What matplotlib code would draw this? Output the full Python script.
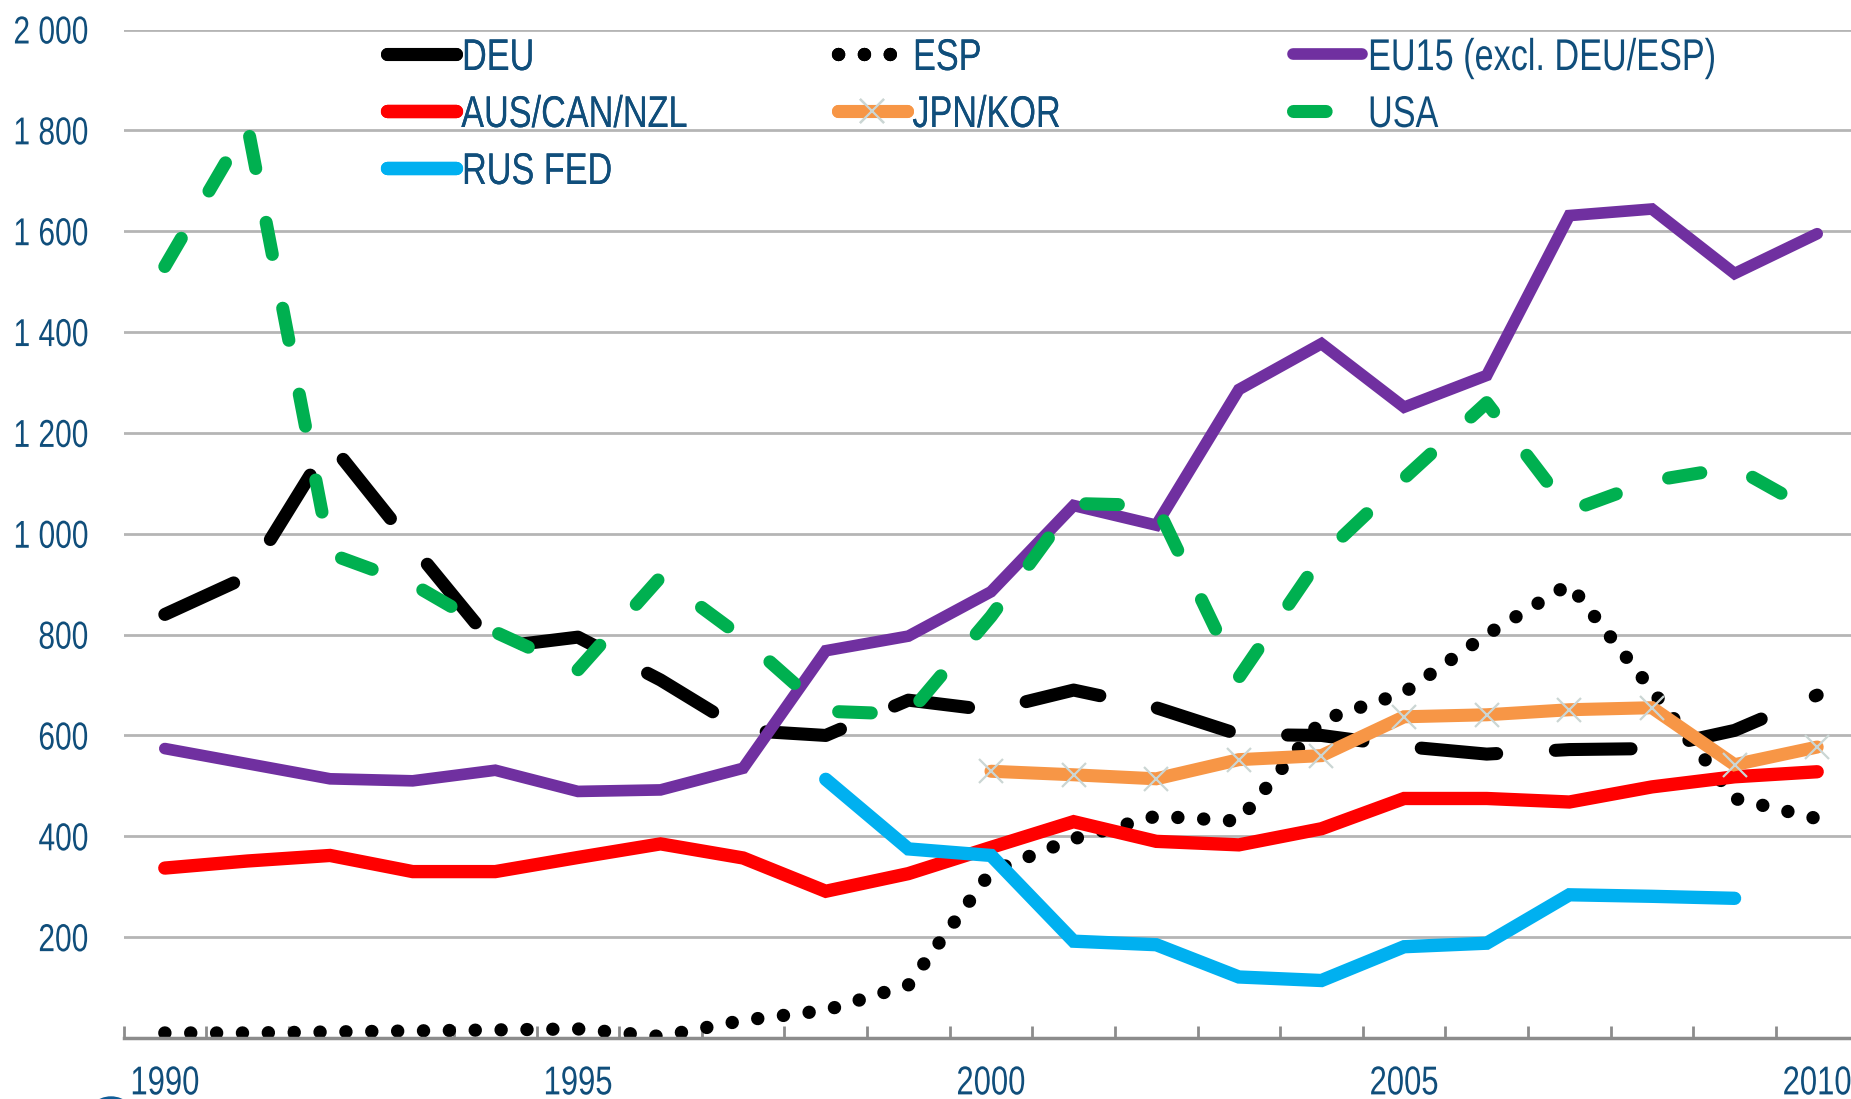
import numpy as np
import matplotlib
matplotlib.use("Agg")
import matplotlib.pyplot as plt
from matplotlib import font_manager
from matplotlib.patches import Ellipse
from matplotlib.patheffects import AbstractPathEffect
from matplotlib.transforms import Affine2D

# Serie
years = list(range(1990, 2011))
deu = [840, 915, 1180, 975, 775, 795, 710, 610, 600, 670, 650, 690, 655, 602, 600, 578, 563, 572, 574, 610, 680]
esp = [10, 10, 12, 14, 16, 18, 3, 35, 55, 105, 330, 395, 440, 430, 630, 685, 800, 900, 690, 475, 435]
eu15 = [574, 544, 514, 510, 531, 489, 492, 535, 768, 797, 885, 1056, 1017, 1286, 1377, 1251, 1314, 1631, 1644, 1516, 1595]
aus_can_nzl = [337, 351, 362, 330, 330, 358, 385, 357, 291, 326, 378, 429, 390, 383, 415, 475, 475, 468, 498, 518, 528]
jpn_kor = [None] * 10 + [529, 522, 514, 552, 560, 637, 641, 651, 655, 542, 577]
usa = [1530, 1810, 960, 900, 805, 730, 914, 793, 648, 642, 836, 1060, 1056, 715, 955, 1110, 1260, 1045, 1105, 1132, 1040]
rus_fed = [None] * 8 + [513, 375, 362, 192, 185, 121, 114, 181, 188, 284, 281, 277, None]

y_ticks = list(range(200, 2001, 200))
x_label_years = [1990, 1995, 2000, 2005, 2010]

TEXT_COLOR = "#104E7B"
SQUEEZE = 0.77   # il grafico originale usa un carattere stretto (tipo Arial Narrow)


class Narrow(AbstractPathEffect):
    """Comprime il testo in orizzontale attorno al bordo sinistro, destro o al centro."""

    def __init__(self, sx=SQUEEZE, anchor="left"):
        super().__init__()
        self.sx = sx
        self.anchor = anchor

    def draw_path(self, renderer, gc, tpath, affine, rgbFace=None):
        ext = tpath.get_extents(affine)
        if self.anchor == "right":
            px = ext.x1
        elif self.anchor == "center":
            px = 0.5 * (ext.x0 + ext.x1)
        else:
            px = ext.x0
        squeeze = Affine2D().translate(-px, 0).scale(self.sx, 1).translate(px, 0)
        renderer.draw_path(gc, tpath, affine + squeeze, rgbFace)


def pick_font(names):
    for name in names:
        try:
            font_manager.findfont(font_manager.FontProperties(family=name),
                                  fallback_to_default=False)
            return name
        except ValueError:
            pass
    return "DejaVu Sans"


font = pick_font(["Liberation Sans", "Arial"])
plt.rcParams["font.family"] = [font, "DejaVu Sans"]

fig = plt.figure(figsize=(18.51, 10.99), dpi=100)
ax = fig.add_axes([123.5 / 1851, 61 / 1099, 1735 / 1851, 1008.5 / 1099])

x = np.arange(len(years))


def arr(vals):
    return np.array([np.nan if v is None else v for v in vals], dtype=float)


# serie nell'ordine di Excel (l'ultima sta sopra)
series = [
    ("DEU", deu, dict(color="black", lw=9.4, ls=(0, (5.8, 4.5)), dash_capstyle="round")),
    ("ESP", esp, dict(color="black", lw=9.6, ls=(0, (0.01, 1.93)), dash_capstyle="round")),
    ("EU15 (excl. DEU/ESP)", eu15, dict(color="#7030A0", lw=8.4)),
    ("AUS/CAN/NZL", aus_can_nzl, dict(color="#FF0000", lw=9.6)),
    ("JPN/KOR", jpn_kor, dict(color="#F79646", lw=9.4, marker="x", ms=17,
                              mec="#CBD6D4", mew=1.6)),
    ("USA", usa, dict(color="#00B050", lw=9.4, ls=(0, (2.5, 4.2)), dash_capstyle="round")),
    ("RUS FED", rus_fed, dict(color="#00B0F0", lw=9.6)),
]

handles = {}
for name, vals, style in series:
    line, = ax.plot(x, arr(vals), solid_capstyle="round", solid_joinstyle="miter",
                    label=name, **style)
    handles[name] = line

# assi
ax.set_xlim(-0.5, len(years) - 0.5)
ax.set_ylim(0, 2000)
ax.set_yticks(y_ticks)
ax.set_yticklabels([f"{v:,}".replace(",", " ") for v in y_ticks])
ax.set_xticks([years.index(y) for y in x_label_years])
ax.set_xticklabels([str(y) for y in x_label_years])
ax.set_xticks(np.arange(-0.5, len(years), 1), minor=True)

ax.tick_params(axis="y", length=0, pad=25, labelsize=28, labelcolor=TEXT_COLOR)
ax.tick_params(axis="x", which="major", length=0, pad=19, labelsize=29, labelcolor=TEXT_COLOR)
ax.tick_params(axis="x", which="minor", direction="in", length=9, width=2, color="#8C8C8C")

for lbl in ax.get_yticklabels():
    lbl.set_path_effects([Narrow(anchor="right")])
for lbl in ax.get_xticklabels():
    lbl.set_path_effects([Narrow(anchor="center")])

ax.grid(axis="y", color="#B5B5B5", lw=2)
ax.set_axisbelow(True)
for side in ["left", "right", "top"]:
    ax.spines[side].set_visible(False)
ax.spines["bottom"].set_color("#8C8C8C")
ax.spines["bottom"].set_linewidth(2.5)

# legenda: tre colonne con larghezza fissa come in Excel
columns = [
    (387, ["DEU", "AUS/CAN/NZL", "RUS FED"]),
    (838, ["ESP", "JPN/KOR"]),
    (1293, ["EU15 (excl. DEU/ESP)", "USA"]),
]
legends = []
for x_px, names in columns:
    leg = fig.legend(
        [handles[n] for n in names], names,
        loc="upper left",
        bbox_to_anchor=(x_px / 1851, 1 - 38 / 1099),
        bbox_transform=fig.transFigure,
        frameon=False,
        fontsize=32,
        labelcolor=TEXT_COLOR,
        handlelength=1.55,
        handletextpad=0.12,
        labelspacing=0.36,
        borderpad=0,
        borderaxespad=0,
    )
    for t in leg.get_texts():
        t.set_path_effects([Narrow(anchor="left")])
    legends.append(leg)
for leg in legends[:-1]:
    fig.add_artist(leg)

# logo tagliato in basso a sinistra
fig.add_artist(Ellipse((111 / 1851, -24 / 1099), 52 / 1851, 52 / 1099,
                       transform=fig.transFigure, color="#0F5C97", clip_on=False))

fig.savefig("out.png", dpi=100)
